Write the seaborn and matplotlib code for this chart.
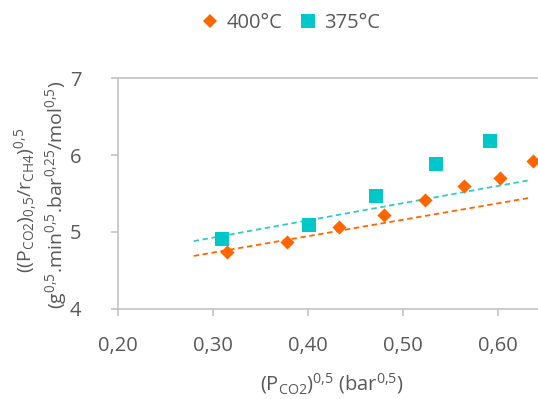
import matplotlib
matplotlib.use("Agg")
import matplotlib.pyplot as plt
import seaborn as sns
import pandas as pd
from matplotlib.lines import Line2D

# ---- data ----
x_400 = [0.315, 0.378, 0.433, 0.480, 0.524, 0.565, 0.602, 0.6375]
y_400 = [4.74, 4.87, 5.06, 5.22, 5.42, 5.60, 5.70, 5.92]
x_375 = [0.310, 0.401, 0.472, 0.535, 0.592]
y_375 = [4.91, 5.09, 5.47, 5.88, 6.19]
trend_x = [0.28, 0.632]
trend_400 = [4.687, 5.44]
trend_375 = [4.88, 5.67]
series_labels = ["400°C", "375°C"]
x_ticks = [0.20, 0.30, 0.40, 0.50, 0.60]
x_tick_labels = ["0,20", "0,30", "0,40", "0,50", "0,60"]
y_ticks = [4, 5, 6, 7]
y_tick_labels = ["4", "5", "6", "7"]

ORANGE = "#FF6600"
TEAL = "#00C8C8"
TEAL_LINE = "#2ECCCC"
GRAY = "#595959"
AXC = "#BFBFBF"

sns.set_theme(style="white")
plt.rcParams["font.family"] = ["Open Sans", "DejaVu Sans"]
plt.rcParams["mathtext.fontset"] = "custom"
plt.rcParams["mathtext.rm"] = "Open Sans"
plt.rcParams["mathtext.it"] = "Open Sans:italic"
plt.rcParams["mathtext.bf"] = "Open Sans:bold"
plt.rcParams["mathtext.default"] = "regular"

W, H = 538, 399
fig = plt.figure(figsize=(W / 100, H / 100), dpi=100)
L, T, B, R = 117.7, 78.3, 308.7, 538
ax = fig.add_axes([L / W, (H - B) / H, (R - L) / W, (B - T) / H])

df_t4 = pd.DataFrame({"x": trend_x, "y": trend_400})
df_t3 = pd.DataFrame({"x": trend_x, "y": trend_375})
sns.lineplot(data=df_t4, x="x", y="y", ax=ax, color=ORANGE, lw=1.3,
             linestyle=(0, (3, 2)), zorder=2)
sns.lineplot(data=df_t3, x="x", y="y", ax=ax, color=TEAL_LINE, lw=1.3,
             linestyle=(0, (3, 2)), zorder=2)

df4 = pd.DataFrame({"x": x_400, "y": y_400})
df3 = pd.DataFrame({"x": x_375, "y": y_375})
sns.scatterplot(data=df4, x="x", y="y", ax=ax, marker="D", s=52,
                color=ORANGE, linewidth=0, zorder=3, clip_on=False)
sns.scatterplot(data=df3, x="x", y="y", ax=ax, marker="s", s=100,
                color=TEAL, linewidth=0, zorder=3, clip_on=False)

ax.set_xlim(0.20, 0.20 + (R - L) / 950)
ax.set_ylim(4, 7)
ax.set_xticks(x_ticks, x_tick_labels)
ax.set_yticks(y_ticks, y_tick_labels)
ax.set_xlabel("")
ax.set_ylabel("")
for s in ["left", "top", "bottom"]:
    ax.spines[s].set_visible(True)
    ax.spines[s].set_color(AXC)
    ax.spines[s].set_linewidth(1.1)
ax.spines["right"].set_visible(False)
ax.tick_params(axis="x", direction="out", length=5, width=1.1, color=AXC,
               labelcolor=GRAY, labelsize=14.5, pad=15, bottom=True)
ax.tick_params(axis="y", direction="out", length=5, width=1.1, color=AXC,
               labelcolor=GRAY, labelsize=14.5, pad=21, left=True)
ax.grid(False)

fig.text(332 / W, 9 / H, r"(P$_{CO2}$)$^{0{,}5}$ (bar$^{0{,}5}$)",
         ha="center", va="baseline", fontsize=14.5, color=GRAY)
fig.text(32 / W, 1 - 200 / H,
         r"((P$_{CO2}$)$_{0{,}5}$/r$_{CH4}$)$^{0{,}5}$",
         rotation=90, rotation_mode="anchor", ha="center", va="baseline",
         fontsize=14, color=GRAY)
fig.text(62 / W, 1 - 195 / H,
         r"(g$^{0{,}5}$.min$^{0{,}5}$.bar$^{0{,}25}$/mol$^{0{,}5}$)",
         rotation=90, rotation_mode="anchor", ha="center", va="baseline",
         fontsize=14, color=GRAY)

handles = [
    Line2D([], [], marker="D", color=ORANGE, linestyle="none", markersize=7.2,
           markeredgewidth=0),
    Line2D([], [], marker="s", color=TEAL, linestyle="none", markersize=10,
           markeredgewidth=0),
]
leg = ax.legend(handles, series_labels, ncol=2, loc="center",
                bbox_to_anchor=(290 / W, 1 - 23 / H), bbox_transform=fig.transFigure,
                frameon=False, handlelength=1.0, handletextpad=0.3,
                columnspacing=0.75, fontsize=14.5, labelcolor=GRAY)

fig.savefig("out.png", dpi=100)
